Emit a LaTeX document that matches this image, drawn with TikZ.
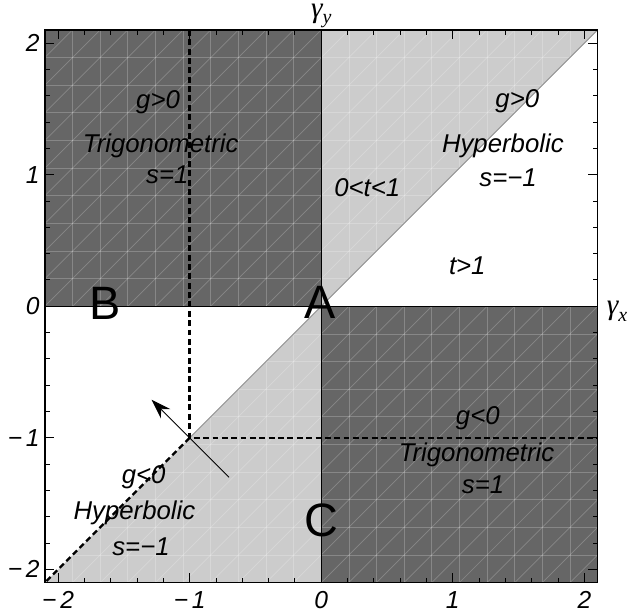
\documentclass[tikz,border=0pt]{standalone}
\usepackage{fontspec}
\setsansfont{Liberation Sans}
\newfontfamily\grkfont{Liberation Serif}
\usetikzlibrary{arrows.meta,positioning}
\definecolor{darkc}{HTML}{666666}
\definecolor{lightc}{HTML}{CCCCCC}
\definecolor{diagc}{HTML}{8C8C8C}
\tikzset{
  >={Stealth[length=6mm,width=4mm]},
  lbl/.style={font=\sffamily\itshape\fontsize{22}{26}\selectfont,inner sep=1pt},
  pnt/.style={font=\sffamily\fontsize{40}{44}\selectfont,inner sep=0pt},
  tk/.style={font=\sffamily\itshape\fontsize{21}{25}\selectfont,inner sep=1pt},
  axl/.style={font=\grkfont\itshape\fontsize{25}{26}\selectfont,inner sep=0pt},
  bnd/.style={dash pattern=on 5pt off 3pt,line width=2pt},
  mesh/.style={white,opacity=0.22,line width=0.6pt},
  frm/.style={line width=1.2pt},
}
\newcommand{\gsub}[1]{γ\raisebox{-0.22em}{\fontsize{17}{18}\selectfont #1}}

\begin{document}
\begin{tikzpicture}[x=3.951cm,y=3.951cm]
  \useasboundingbox (-2.4415,-2.320) rectangle (2.3465,2.3275);
  % regions
  \fill[darkc] (-2.1,0) rectangle (0,2.1);
  \fill[darkc] (0,-2.1) rectangle (2.1,0);
  \fill[lightc] (0,0) -- (0,2.1) -- (2.1,2.1) -- cycle;
  \fill[lightc] (0,0) -- (0,-2.1) -- (-2.1,-2.1) -- cycle;
  \begin{scope}
    \clip (-2.1,-2.1) rectangle (2.1,2.1);
    \foreach \k in {-20,...,20}{
      \draw[mesh] (\k*0.21,-2.1) -- ++(0,4.2);
      \draw[mesh] (-2.1,\k*0.21) -- ++(4.2,0);
      \draw[mesh] (\k*0.21,0) ++(-4.2,-4.2) -- ++(8.4,8.4);
    }
  \end{scope}
  % boundaries
  \coordinate (P) at (-1,-1);
  \draw[diagc,line width=0.8pt] (P) -- (2.1,2.1);
  \draw[line width=0.8pt] (0,-2.1) -- (0,2.1);
  \draw[line width=1pt] (-2.1,0) -- (2.1,0);
  \draw[bnd] (-1,2.1) -- (P) -- (2.1,-1);
  \draw[bnd] (P) -- (-2.1,-2.1);
  % frame and ticks
  \draw[frm] (-2.1,-2.1) rectangle (2.1,2.1);
  \foreach \i in {-10,...,10}{
    \pgfmathsetmacro\v{\i/5}
    \pgfmathsetmacro\l{ifthenelse(mod(\i,5)==0,0.07,0.035)}
    \draw[line width=0.8pt] (\v,-2.1) -- ++(0,\l) (\v,2.1) -- ++(0,-\l)
      (-2.1,\v) -- ++(\l,0) (2.1,\v) -- ++(-\l,0);
  }
  \node[tk] (xm2) at (-2,-2.229) {−\hspace{0.15em}2};
  \node[tk] (xm1) at (-1,-2.229) {−\hspace{0.15em}1};
  \node[tk] (x0) at (0,-2.229) {0};
  \node[tk] (x1) at (1,-2.229) {1};
  \node[tk] (x2) at (2,-2.229) {2};
  \node[tk,anchor=east] (ym2) at (-2.13,-2) {−\hspace{0.15em}2};
  \node[tk,anchor=east] (ym1) at (-2.13,-1) {−\hspace{0.15em}1};
  \node[tk,anchor=east] (y0) at (-2.13,0) {0};
  \node[tk,anchor=east] (y1) at (-2.13,1) {1};
  \node[tk,anchor=east] (y2) at (-2.13,2) {2};
  \node[axl,anchor=base] (gy) at (0,2.198) {\gsub{y}};
  \node[axl,anchor=base west] (gx) at (2.168,-0.065) {\gsub{x}};
  % labels
  \node[lbl] (g1) at (-1.24,1.55) {g>0};
  \node[lbl] (tr1) at (-1.22,1.22) {Trigonometric};
  \node[lbl] (s1) at (-1.17,1.0) {s=1};
  \node[lbl] (g2) at (1.49,1.56) {g>0};
  \node[lbl] (hy2) at (1.38,1.22) {Hyperbolic};
  \node[lbl] (s2) at (1.42,0.98) {s=−1};
  \node[lbl] (t01) at (0.35,0.90) {0<t<1};
  \node[lbl] (t1) at (1.11,0.31) {t>1};
  \node[lbl] (g3) at (1.19,-0.85) {g<0};
  \node[lbl] (tr3) at (1.18,-1.13) {Trigonometric};
  \node[lbl] (s3) at (1.23,-1.36) {s=1};
  \node[lbl] (g4) at (-1.35,-1.30) {g<0};
  \node[lbl] (hy4) at (-1.42,-1.57) {Hyperbolic};
  \node[lbl] (s4) at (-1.37,-1.83) {s=−1};
  \node[pnt] (A) at (-0.01,0.03) {A};
  \node[pnt] (B) at (-1.64,0.02) {B};
  \node[pnt] (C) at (0.0,-1.63) {C};
  % normal direction
  \coordinate (tail) at (-0.70,-1.30);
  \coordinate (head) at (-1.29,-0.71);
  \draw[->,line width=0.8pt] (tail) -- (head);
\end{tikzpicture}
\end{document}
